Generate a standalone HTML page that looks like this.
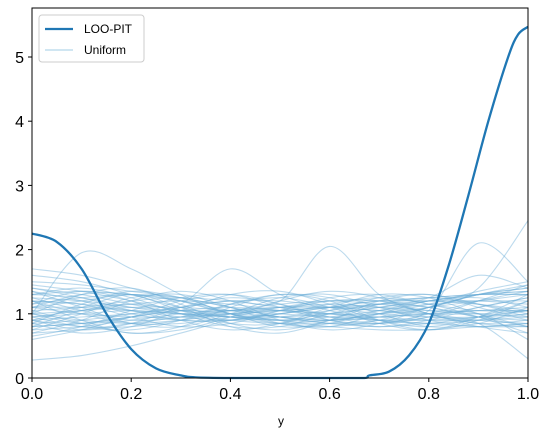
<!DOCTYPE html>
<html><head><meta charset="utf-8"><style>
body{margin:0;background:#fff;font-family:"Liberation Sans","DejaVu Sans",sans-serif}
svg{display:block}
</style></head><body>
<svg id="chart" width="553" height="437" xmlns="http://www.w3.org/2000/svg">
<g id="uni"></g>
<g id="loo"></g>
<rect x="32" y="8" width="496" height="370" fill="none" stroke="#000" stroke-width="1"/>
<g id="axes"></g>
<text x="281" y="425" font-size="12" text-anchor="middle">y</text>
<g>
<rect x="39" y="15" width="105" height="47" rx="3" fill="#fff" fill-opacity="0.8" stroke="#ccc"/>
<line x1="45" y1="29" x2="73" y2="29" stroke="#1f77b4" stroke-width="2.2"/>
<text x="84" y="33" font-size="12">LOO-PIT</text>
<line x1="45" y1="50" x2="73" y2="50" stroke="#6baed6" stroke-opacity="0.5" stroke-width="1.2"/>
<text x="84" y="54" font-size="12">Uniform</text>
</g>
</svg>
<script>
const xTicks=[0,0.2,0.4,0.6,0.8,1.0];
const xTickLabels=["0.0","0.2","0.4","0.6","0.8","1.0"];
const yTicks=[0,1,2,3,4,5];
const looX=[0,0.05,0.1,0.15,0.2,0.25,0.3,0.33,0.4,0.5,0.6,0.67,0.68,0.72,0.76,0.8,0.84,0.88,0.92,0.96,0.98,1.0];
const looY=[2.25,2.12,1.7,1.0,0.45,0.15,0.04,0.01,0,0,0,0,0.04,0.1,0.35,0.85,1.75,2.85,4.0,5.0,5.35,5.47];
const uniX=[0,0.1,0.2,0.3,0.4,0.5,0.6,0.7,0.8,0.9,1.0];
const uniform=[
[1.3,1.25,1.1,1.0,0.95,0.9,1.0,1.1,1.2,1.3,1.35],
[0.8,0.85,0.95,1.05,1.1,1.05,1.0,0.95,0.9,0.9,0.95],
[1.1,1.2,1.3,1.2,1.0,0.85,0.8,0.9,1.1,1.3,1.4],
[0.28,0.35,0.5,0.7,0.9,1.0,1.1,1.2,1.25,1.3,1.3],
[1.7,1.6,1.4,1.2,1.0,0.9,0.8,0.75,0.75,0.8,0.85],
[0.9,0.95,1.0,1.1,1.2,1.2,2.05,1.3,1.0,0.85,0.8],
[1.0,1.05,1.1,1.1,1.05,1.0,0.95,0.95,1.0,1.05,1.1],
[1.4,1.3,1.15,1.0,0.9,0.85,0.9,1.0,1.15,1.35,1.5],
[0.6,0.75,0.95,1.1,1.2,1.2,1.1,1.0,0.95,0.95,1.0],
[1.2,1.0,0.85,0.85,0.95,1.1,1.2,1.2,1.1,0.95,0.8],
[1.0,1.95,1.7,1.3,1.0,0.9,0.9,1.0,1.1,1.2,1.3],
[1.5,1.45,1.35,1.25,1.1,0.95,0.85,0.8,0.85,0.95,1.05],
[0.75,0.8,0.9,1.0,1.05,1.05,1.0,1.0,1.1,1.4,2.45],
[1.1,1.0,0.95,0.95,1.0,1.1,1.15,1.1,1.0,0.9,0.85],
[1.3,1.35,1.3,1.2,1.05,0.95,0.9,0.95,1.0,1.05,1.05],
[0.9,0.8,0.8,0.9,1.05,1.15,1.2,1.15,1.05,1.0,0.95],
[1.6,1.5,1.3,1.1,0.95,0.85,0.85,0.9,1.05,2.1,1.5],
[0.95,1.05,1.15,1.2,1.15,1.05,0.95,0.9,0.9,0.95,1.05],
[1.2,1.15,1.05,0.95,0.9,0.95,1.05,1.15,1.25,1.3,1.3],
[0.7,0.75,0.85,0.95,1.05,1.1,1.1,1.05,1.0,1.0,1.05],
[1.05,1.1,1.2,1.25,1.2,1.1,1.0,0.9,0.85,0.8,0.8],
[1.35,1.2,1.0,0.9,0.9,1.0,1.1,1.2,1.2,1.15,1.05],
[0.85,0.9,1.0,1.15,1.7,1.3,1.05,0.9,0.85,0.9,1.0],
[1.15,1.25,1.3,1.25,1.1,0.95,0.85,0.85,0.95,1.1,1.25],
[1.0,0.9,0.85,0.9,1.0,1.05,1.1,1.15,1.2,1.2,1.15],
[1.25,1.2,1.1,1.05,1.05,1.1,1.1,1.05,0.95,0.85,0.3],
[0.8,0.85,0.95,1.05,1.0,0.95,0.9,0.95,1.1,1.3,1.45],
[1.45,1.35,1.2,1.05,0.95,0.9,0.95,1.05,1.15,1.2,1.2],
[0.95,1.0,1.05,1.0,0.95,0.95,1.0,1.1,1.25,1.6,1.4],
[1.1,1.1,1.05,1.0,1.0,1.05,1.1,1.1,1.05,1.0,0.6],
[0.9,1.1,1.3,1.1,0.8,0.7,0.9,1.2,1.3,1.1,0.9],
[1.2,0.9,0.7,0.8,1.1,1.3,1.2,0.9,0.75,0.9,1.2],
[0.7,0.9,1.2,1.35,1.2,0.9,0.75,0.85,1.1,1.3,1.4],
[1.35,1.1,0.85,0.8,1.0,1.25,1.3,1.1,0.9,0.8,0.85],
[1.0,1.3,1.4,1.15,0.85,0.75,0.9,1.15,1.25,1.15,1.0],
[0.85,0.7,0.8,1.05,1.3,1.35,1.15,0.9,0.8,0.95,1.2],
[1.15,1.35,1.2,0.9,0.75,0.85,1.1,1.3,1.25,1.0,0.8],
[0.95,0.8,0.75,0.9,1.15,1.3,1.25,1.0,0.8,0.85,1.1],
[1.25,1.05,0.9,0.95,1.15,1.25,1.1,0.85,0.75,0.95,1.3],
[0.75,1.0,1.25,1.3,1.1,0.85,0.8,1.0,1.2,1.25,1.1],
[1.05,0.85,0.7,0.75,0.95,1.2,1.35,1.25,1.0,0.8,0.7],
[1.4,1.25,1.05,0.9,0.9,1.05,1.2,1.2,1.0,0.85,0.9],
[0.65,0.8,1.05,1.25,1.3,1.1,0.9,0.85,1.0,1.2,1.35],
[1.1,1.3,1.3,1.05,0.85,0.85,1.05,1.25,1.3,1.15,0.95],
[0.9,0.75,0.85,1.1,1.25,1.15,0.95,0.85,0.95,1.2,1.45],
[1.3,1.4,1.25,1.0,0.8,0.8,1.0,1.15,1.1,0.95,0.9],
[0.8,1.05,1.15,1.05,0.95,1.0,1.15,1.25,1.15,0.95,0.7],
[1.0,0.85,0.95,1.2,1.3,1.15,0.9,0.8,0.9,1.1,1.25],
[1.2,1.15,0.95,0.8,0.85,1.05,1.25,1.3,1.15,1.05,1.05],
[0.85,1.15,1.35,1.25,1.0,0.8,0.85,1.05,1.2,1.3,1.35]
];
const X0=32,X1=528,Y0=378,PPU=64.2;
const sx=v=>X0+(X1-X0)*v, sy=v=>Y0-v*PPU;
const NS="http://www.w3.org/2000/svg";
function smooth(xs,ys){
 const p=xs.map((x,i)=>[sx(x),sy(ys[i])]);
 let d="M"+p[0][0]+","+p[0][1];
 for(let i=0;i<p.length-1;i++){
  const a=p[Math.max(i-1,0)],b=p[i],c=p[i+1],e=p[Math.min(i+2,p.length-1)];
  const c1=[b[0]+(c[0]-a[0])/6,b[1]+(c[1]-a[1])/6],c2=[c[0]-(e[0]-b[0])/6,c[1]-(e[1]-b[1])/6];
  d+=" C"+c1[0]+","+Math.min(c1[1],Y0)+" "+c2[0]+","+Math.min(c2[1],Y0)+" "+c[0]+","+c[1];
 }
 return d;
}
const ug=document.getElementById("uni");
uniform.forEach((ys,k)=>{
 const p=document.createElementNS(NS,"path");
 p.setAttribute("d",smooth(uniX,ys));
 p.setAttribute("fill","none");p.setAttribute("stroke","#6baed6");
 p.setAttribute("stroke-opacity","0.45");p.setAttribute("stroke-width","1.1");
 
 
 ug.appendChild(p);
});
const lp=document.createElementNS(NS,"path");
lp.setAttribute("d",smooth(looX,looY));
lp.setAttribute("fill","none");lp.setAttribute("stroke","#1f77b4");lp.setAttribute("stroke-width","2.3");


document.getElementById("loo").appendChild(lp);
const ax=document.getElementById("axes");
xTicks.forEach((v,i)=>{
 const l=document.createElementNS(NS,"line");
 l.setAttribute("x1",sx(v));l.setAttribute("x2",sx(v));l.setAttribute("y1",Y0);l.setAttribute("y2",Y0+4);l.setAttribute("stroke","#000");
 
 
 ax.appendChild(l);
 const t=document.createElementNS(NS,"text");
 t.setAttribute("x",sx(v));t.setAttribute("y",Y0+21);t.setAttribute("font-size","16");t.setAttribute("text-anchor","middle");
 t.textContent=xTickLabels[i];
 
 
 ax.appendChild(t);
});
yTicks.forEach(v=>{
 const l=document.createElementNS(NS,"line");
 l.setAttribute("x1",X0-4);l.setAttribute("x2",X0);l.setAttribute("y1",sy(v));l.setAttribute("y2",sy(v));l.setAttribute("stroke","#000");
 
 
 ax.appendChild(l);
 const t=document.createElementNS(NS,"text");
 t.setAttribute("x",X0-8);t.setAttribute("y",sy(v)+6);t.setAttribute("font-size","16");t.setAttribute("text-anchor","end");
 t.textContent=String(v);
 
 
 ax.appendChild(t);
});
</script>
</body></html>
